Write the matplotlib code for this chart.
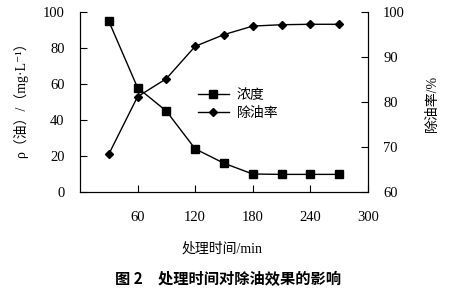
import matplotlib
matplotlib.use("Agg")
import matplotlib.pyplot as plt

plt.rcParams['font.family'] = ['Liberation Serif', 'Noto Sans CJK SC', 'DejaVu Serif', 'DejaVu Sans']

time_min = [30, 60, 90, 120, 150, 180, 210, 240, 270]
concentration = [95, 58, 45, 24, 16, 10, 9.8, 9.8, 9.8]
removal_rate = [68.4, 81.2, 85.2, 92.4, 95.0, 96.9, 97.2, 97.3, 97.3]
x_ticks = [60, 120, 180, 240, 300]
y_ticks_left = [0, 20, 40, 60, 80, 100]
y_ticks_right = [60, 70, 80, 90, 100]

fig = plt.figure(figsize=(4.61, 2.89), dpi=100)
ax = fig.add_axes([0.1735, 0.3356, 0.6245, 0.6224])
ax2 = ax.twinx()

l1, = ax.plot(time_min, concentration, color='black', lw=1.0, marker='s', ms=5.5)
l2, = ax2.plot(time_min, removal_rate, color='black', lw=1.0, marker='D', ms=4.5)

ax.set_xlim(0, 300)
ax.set_ylim(0, 100)
ax2.set_ylim(60, 100)
ax.set_xticks(x_ticks)
ax.set_yticks(y_ticks_left)
ax2.set_yticks(y_ticks_right)

for a in (ax, ax2):
    a.spines['top'].set_visible(False)
    for s in a.spines.values():
        s.set_linewidth(0.8)
ax.tick_params(axis='x', direction='in', length=5, width=0.8, pad=14, labelsize=10.5)
ax.tick_params(axis='y', direction='in', length=5, width=0.8, pad=11, labelsize=10.5)
ax2.tick_params(axis='y', direction='in', length=5, width=0.8, pad=11, labelsize=10.5)

ax.set_ylabel('ρ（油）/（mg·L⁻¹）', fontsize=10)
ax.yaxis.set_label_coords(-0.18, 0.53)
ax2.set_ylabel('除油率/%', fontsize=10, rotation=90)
ax2.yaxis.set_label_coords(1.2, 0.49)
ax.set_xlabel('处理时间/min', fontsize=10)
ax.xaxis.set_label_coords(0.493, -0.28)

leg = ax2.legend([l1, l2], ['浓度', '除油率'], loc='upper left',
                 bbox_to_anchor=(0.41, 0.575), frameon=False, fontsize=10,
                 handlelength=2.2, handletextpad=0.6, labelspacing=0.35,
                 borderpad=0, borderaxespad=0)

fig.text(0.495, 0.035, '图 2　处理时间对除油效果的影响', ha='center', va='center',
         fontsize=11, fontweight='bold', family=['Noto Sans CJK SC'])

fig.savefig('out.png', dpi=100)
